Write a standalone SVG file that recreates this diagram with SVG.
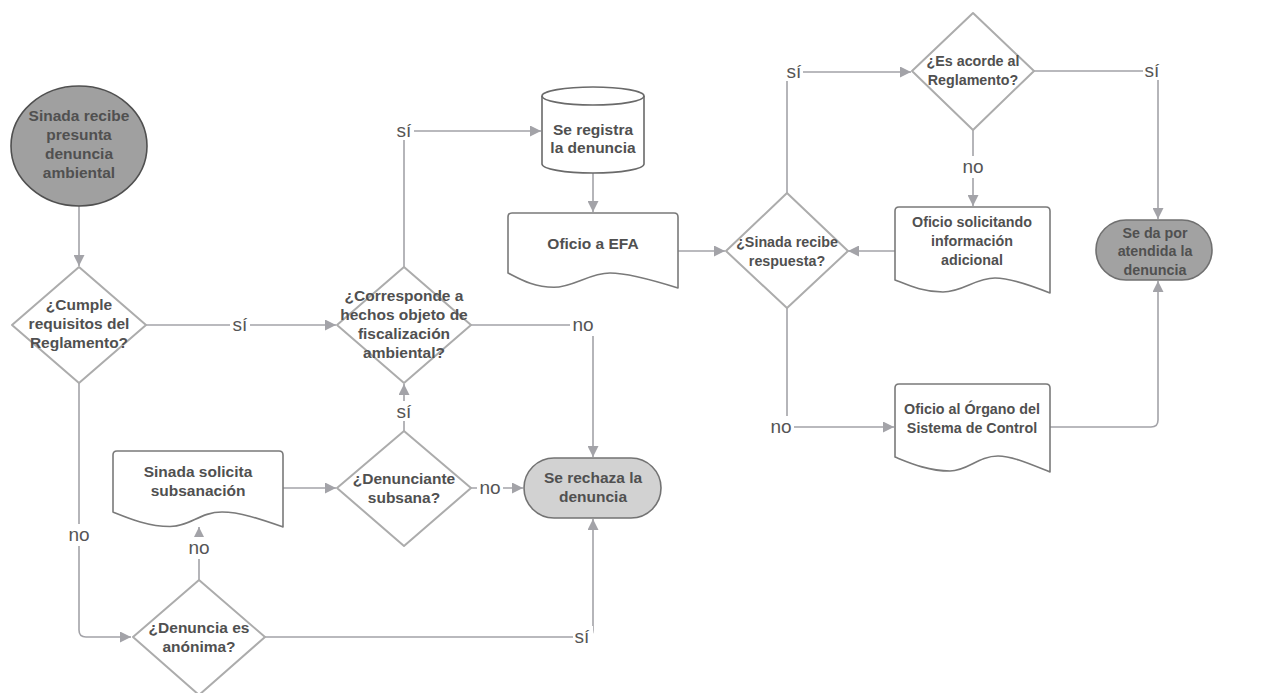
<svg xmlns="http://www.w3.org/2000/svg" width="1264" height="693" viewBox="0 0 1264 693">
<defs>
<marker id="ah" viewBox="0 0 10 10" refX="10" refY="5" markerWidth="11" markerHeight="11" markerUnits="userSpaceOnUse" orient="auto">
<path d="M0,0 L10,5 L0,10 Z" fill="#a3a3a8"/>
</marker>
<style>
.c{fill:none;stroke:#a3a3a8;stroke-width:1.6}
.ca{fill:none;stroke:#a3a3a8;stroke-width:1.6;marker-end:url(#ah)}
.dia{fill:#fff;stroke:#acacac;stroke-width:2;stroke-linejoin:round}
.doc{fill:#fff;stroke:#7a7a7a;stroke-width:1.6;stroke-linejoin:round}
.t{font-family:"Liberation Sans",Arial,sans-serif;font-size:15.5px;font-weight:bold;fill:#505050;text-anchor:middle}
.tr{font-family:"Liberation Sans",Arial,sans-serif;font-size:14.3px;font-weight:bold;fill:#505050;text-anchor:middle}
.l{font-family:"Liberation Sans",Arial,sans-serif;font-size:19px;fill:#555;text-anchor:middle}
.lb{fill:#fff}
</style>
</defs>
<rect width="1264" height="693" fill="#fff"/>

<g id="connectors">
<line class="ca" x1="79" y1="206" x2="79" y2="266"/>
<path class="ca" d="M145,325 H336"/>
<path class="ca" d="M404,267 V131 H541"/>
<line class="ca" x1="593" y1="173" x2="593" y2="212"/>
<line class="ca" x1="678" y1="251" x2="725" y2="251"/>
<path class="ca" d="M471,325 H593 V457"/>
<line class="ca" x1="404" y1="431" x2="404" y2="384"/>
<line class="ca" x1="471" y1="488" x2="523" y2="488"/>
<line class="ca" x1="283" y1="488" x2="336" y2="488"/>
<line class="ca" x1="199" y1="580" x2="199" y2="527"/>
<path class="ca" d="M79,383 V630 Q79,637 86,637 H131"/>
<path class="ca" d="M263,637 H586 Q593,637 593,630 V519"/>
<path class="ca" d="M787,193 V79 Q787,72 794,72 H911"/>
<path class="ca" d="M1034,71 H1151 Q1158,71 1158,78 V219"/>
<line class="ca" x1="973" y1="130" x2="973" y2="206"/>
<line class="ca" x1="895" y1="251" x2="848" y2="251"/>
<path class="ca" d="M787,307 V427 H894"/>
<path class="ca" d="M1050,427 H1151 Q1158,427 1158,420 V281"/>
<!-- labels -->
<rect class="lb" x="230" y="314" width="20" height="20"/>
<text class="l" x="240" y="331">sí</text>
<rect class="lb" x="394" y="120" width="20" height="20"/>
<text class="l" x="404" y="137">sí</text>
<rect class="lb" x="570" y="314" width="28" height="22"/>
<text class="l" x="583" y="331">no</text>
<rect class="lb" x="394" y="401" width="20" height="20"/>
<text class="l" x="404" y="418">sí</text>
<rect class="lb" x="477" y="477" width="26" height="22"/>
<text class="l" x="490" y="494">no</text>
<rect class="lb" x="186" y="537" width="26" height="22"/>
<text class="l" x="199" y="554">no</text>
<rect class="lb" x="66" y="524" width="26" height="22"/>
<text class="l" x="79" y="541">no</text>
<rect class="lb" x="573" y="626" width="20" height="20"/>
<text class="l" x="582" y="643">sí</text>
<rect class="lb" x="785" y="61" width="18" height="20"/>
<text class="l" x="794" y="78">sí</text>
<rect class="lb" x="1143" y="60" width="18" height="20"/>
<text class="l" x="1152" y="77">sí</text>
<rect class="lb" x="960" y="156" width="26" height="22"/>
<text class="l" x="973" y="173">no</text>
<rect class="lb" x="768" y="416" width="26" height="22"/>
<text class="l" x="781" y="433">no</text>
</g>

<g id="start">
<ellipse cx="79" cy="146" rx="68" ry="60" fill="#a0a0a0" stroke="#505050" stroke-width="1.6"/>
<text class="t" x="79" y="121">Sinada recibe</text>
<text class="t" x="79" y="140">presunta</text>
<text class="t" x="79" y="159">denuncia</text>
<text class="t" x="79" y="178">ambiental</text>
</g>

<g id="cumple">
<path class="dia" d="M79,267 L146,325 L79,383 L12,325 Z"/>
<text class="t" x="79" y="310">¿Cumple</text>
<text class="t" x="79" y="329">requisitos del</text>
<text class="t" x="79" y="348">Reglamento?</text>
</g>

<g id="corresponde">
<path class="dia" d="M404,267 L471,325 L404,383 L337,325 Z"/>
<text class="t" x="404" y="301">¿Corresponde a</text>
<text class="t" x="404" y="320">hechos objeto de</text>
<text class="t" x="404" y="339">fiscalización</text>
<text class="t" x="404" y="358">ambiental?</text>
</g>

<g id="registra">
<path d="M542,96 V164 A51,9 0 0 0 644,164 V96 A51,9 0 0 0 542,96 Z" fill="#fff" stroke="#6a6a6a" stroke-width="1.6"/>
<path d="M542,96 A51,9 0 0 0 644,96" fill="none" stroke="#6a6a6a" stroke-width="1.6"/>
<text class="t" x="593" y="135">Se registra</text>
<text class="t" x="593" y="153">la denuncia</text>
</g>

<g id="efa">
<path class="doc" d="M508,217 Q508,213 512,213 H674 Q678,213 678,217 V288 C652.5,280 627,273 610,273 C589.6,273 572.6,287.3 553.9,287.3 C533.5,287.3 519.9,279 508,273 Z"/>
<text class="t" x="593" y="249">Oficio a EFA</text>
</g>

<g id="rechaza">
<rect x="524" y="458" width="137" height="60" rx="30" fill="#d2d2d2" stroke="#737373" stroke-width="1.6"/>
<text class="t" x="593" y="483">Se rechaza la</text>
<text class="t" x="593" y="502">denuncia</text>
</g>

<g id="subsana">
<path class="dia" d="M404,431 L471,488 L404,546 L337,488 Z"/>
<text class="t" x="404" y="484">¿Denunciante</text>
<text class="t" x="404" y="503">subsana?</text>
</g>

<g id="solicita">
<path class="doc" d="M113,455 Q113,451 117,451 H279 Q283,451 283,455 V527 C260,519 240,512 222,512 C200,512 190,526.5 170,526.5 C148,526.5 128,518 113,512 Z"/>
<text class="t" x="198" y="477">Sinada solicita</text>
<text class="t" x="198" y="496">subsanación</text>
</g>

<g id="anonima">
<path class="dia" d="M199,580 L265,637 L199,695 L133,637 Z"/>
<text class="t" x="199" y="633">¿Denuncia es</text>
<text class="t" x="199" y="652">anónima?</text>
</g>

<g id="recibe">
<path class="dia" d="M787,193 L848,251 L787,308 L726,251 Z"/>
<text class="tr" x="787" y="247">¿Sinada recibe</text>
<text class="tr" x="787" y="266">respuesta?</text>
</g>

<g id="acorde">
<path class="dia" d="M973,13 L1034,71 L973,130 L912,71 Z"/>
<text class="tr" x="973" y="66">¿Es acorde al</text>
<text class="tr" x="973" y="85">Reglamento?</text>
</g>

<g id="adicional">
<path class="doc" d="M895,211 Q895,207 899,207 H1046 Q1050,207 1050,211 V293 C1030,285 1010,278 995,278 C975,278 963,292 943,292 C923,292 908,285 895,280 Z"/>
<text class="tr" x="972" y="227">Oficio solicitando</text>
<text class="tr" x="972" y="246">información</text>
<text class="tr" x="972" y="265">adicional</text>
</g>

<g id="atendida">
<rect x="1096" y="220" width="116" height="60" rx="30" fill="#a2a2a2" stroke="#707070" stroke-width="1.6"/>
<text class="tr" x="1155" y="238">Se da por</text>
<text class="tr" x="1155" y="256">atendida la</text>
<text class="tr" x="1155" y="275">denuncia</text>
</g>

<g id="organo">
<path class="doc" d="M895,388 Q895,384 899,384 H1046 Q1050,384 1050,388 V472 C1030,464 1012,456 998,456 C978,456 968,471 950,471 C928,471 910,463 895,457 Z"/>
<text class="tr" x="972" y="414">Oficio al Órgano del</text>
<text class="tr" x="972" y="433">Sistema de Control</text>
</g>
</svg>
